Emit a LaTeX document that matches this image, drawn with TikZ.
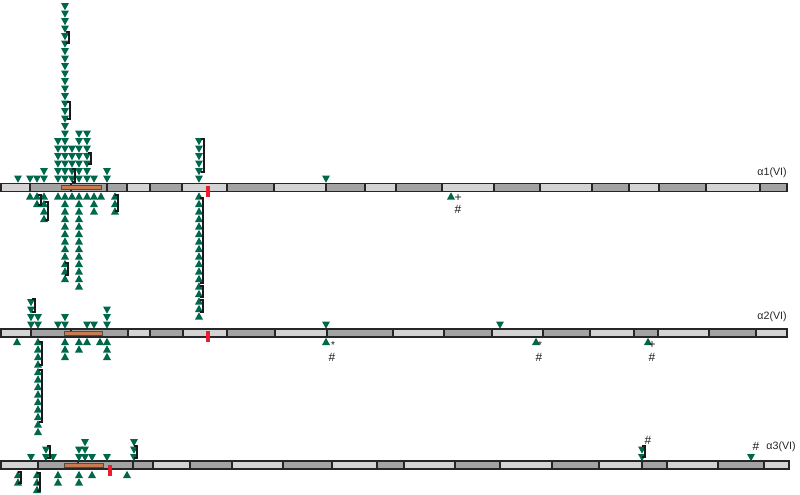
\documentclass[tikz,border=0pt]{standalone}
\usepackage{fontspec}
\setmainfont{Liberation Sans}
\definecolor{tgreen}{RGB}{0,104,74}
\definecolor{segl}{RGB}{212,212,212}
\definecolor{segd}{RGB}{163,163,163}
\definecolor{brownbar}{RGB}{200,122,80}
\definecolor{redmark}{RGB}{236,28,46}
\newcommand\Dn[3]{\foreach \k in {1,...,#3}{\fill[tri] ({#1-4},{#2-(\k-1)*7.5-3.5}) -- ({#1+4},{#2-(\k-1)*7.5-3.5}) -- ({#1},{#2-(\k-1)*7.5+3.7}) -- cycle;}}
\newcommand\Up[3]{\foreach \k in {1,...,#3}{\fill[tri] ({#1-4},{#2+(\k-1)*7.5+3.5}) -- ({#1+4},{#2+(\k-1)*7.5+3.5}) -- ({#1},{#2+(\k-1)*7.5-3.7}) -- cycle;}}
\newcommand\Br[3]{\draw[brk] ({#1-3.5},#2) -- (#1,#2) -- (#1,#3) -- ({#1-3.5},#3);}
\begin{document}
\begin{tikzpicture}[x=0.75pt,y=-0.75pt,
  tri/.style={fill=tgreen},
  brk/.style={draw=black!90,line width=0.8pt},
  segbox/.style={draw=black!85,line width=1pt},
  lbl/.style={font=\fontsize{8}{9}\selectfont,inner sep=0pt,text=black!85},
  annot/.style={font=\fontsize{9}{9}\selectfont,inner sep=0pt,text=black!90},
  star/.style={font=\fontsize{7.5}{8}\selectfont,inner sep=0pt,text=black!90}]
\useasboundingbox (0,0) rectangle (800,494);
% ---------- row 1 bar ----------
\foreach \a/\b/\c in {1/30/segl,30/107/segd,107/127/segd,127/150/segl,150/182/segd,182/227/segl,227/274/segd,274/326/segl,326/365/segd,365/396/segl,396/442/segd,442/494/segl,494/540/segd,540/592/segl,592/629/segd,629/659/segl,659/706/segd,706/760/segl,760/787/segd}
  {\filldraw[segbox,fill=\c] (\a,183.5) rectangle (\b,191.5);}
\draw[segbox] (71,183.5) -- (71,191.5);
\filldraw[fill=brownbar,draw=black!70,line width=0.5pt] (61,185.8) rectangle (101,189.7);
\fill[redmark] (206,186) rectangle (210,196.5);
% ---------- row 2 bar ----------
\foreach \a/\b/\c in {1/31/segl,31/128/segd,128/150/segl,150/183/segd,183/227/segl,227/275/segd,275/327/segl,327/393/segd,393/444/segl,444/492/segd,492/543/segl,543/590/segd,590/634/segl,634/658/segd,658/709/segl,709/756/segd,756/787/segl}
  {\filldraw[segbox,fill=\c] (\a,329) rectangle (\b,337);}
\draw[segbox] (71,329) -- (71,337);
\filldraw[fill=brownbar,draw=black!70,line width=0.5pt] (64,331.3) rectangle (102,335.2);
\fill[redmark] (206,331) rectangle (210,342);
% ---------- row 3 bar ----------
\foreach \a/\b/\c in {1/38/segl,38/133/segd,133/153/segd,153/190/segl,190/232/segd,232/283/segl,283/332/segd,332/377/segl,377/404/segd,404/455/segl,455/500/segd,500/552/segl,552/599/segd,599/642/segl,642/667/segd,667/718/segl,718/764/segd,764/789/segl}
  {\filldraw[segbox,fill=\c] (\a,461) rectangle (\b,469);}
\draw[segbox] (78,461) -- (78,469);
\filldraw[fill=brownbar,draw=black!70,line width=0.5pt] (64,463.3) rectangle (103,467.2);
\fill[redmark] (108,465) rectangle (112,476);
% ---------- row 1 triangles ----------
\Dn{18}{179}{1}\Dn{30}{179}{1}\Dn{37}{179}{1}\Dn{44}{179}{2}
\Dn{58}{179}{6}\Dn{65}{179}{24}\Dn{72}{179}{5}\Dn{79}{179}{7}
\Dn{87}{179}{7}\Dn{94}{179}{1}\Dn{107}{179}{2}
\Dn{199}{179}{6}\Dn{326}{179}{1}
\Br{69}{32}{43}\Br{70}{102}{119}\Br{91}{153}{164}\Br{75}{169}{182}\Br{204}{139}{172}
\Up{30}{196}{1}\Up{37}{196}{2}\Up{44}{196}{4}\Up{58}{196}{1}
\Up{65}{196}{12}\Up{72}{196}{1}\Up{79}{196}{13}\Up{87}{196}{1}
\Up{94}{196}{3}\Up{101}{196}{1}\Up{115}{196}{3}
\Up{199}{196}{17}\Up{451}{196}{1}
\Br{41}{195}{205}\Br{48}{202}{220}\Br{68}{263}{275}\Br{118}{195}{211}
\Br{203}{198}{283}\Br{203}{286}{297}\Br{203}{300}{312}
% ---------- row 2 triangles ----------
\Dn{31}{325}{4}\Dn{38}{325}{2}\Dn{58}{325}{1}\Dn{65}{325}{2}
\Dn{87}{325}{1}\Dn{94}{325}{1}\Dn{107}{325}{3}\Dn{326}{325}{1}\Dn{500}{325}{1}
\Br{35}{299}{312}
\Up{17}{341.5}{1}\Up{38}{341.5}{13}\Up{65}{341.5}{3}\Up{79}{341.5}{2}
\Up{87}{341.5}{1}\Up{100}{341.5}{1}\Up{107}{341.5}{3}
\Up{326}{341.5}{1}\Up{536}{341.5}{1}\Up{648}{341.5}{1}
\Br{42}{342}{365}\Br{42}{370}{422}
% ---------- row 3 triangles ----------
\Dn{31}{457.5}{1}\Dn{46}{457.5}{2}\Dn{53}{457.5}{1}\Dn{79}{457.5}{2}
\Dn{85}{457.5}{3}\Dn{92}{457.5}{1}\Dn{107}{457.5}{1}\Dn{134}{457.5}{3}
\Dn{642}{457.5}{2}\Dn{751}{457.5}{1}
\Br{50}{446}{458}\Br{137}{446}{458}\Br{645}{446}{457}
\Up{18}{474.5}{2}\Up{37}{474.5}{3}\Up{58}{474.5}{2}\Up{79}{474.5}{2}
\Up{92}{474.5}{1}\Up{127}{474.5}{1}
\Br{21}{472}{483}\Br{40}{473}{483}\Br{40}{484}{491}
% ---------- labels ----------
\node[lbl,anchor=east] (l1) at (787,173) {α1(VI)};
\node[lbl,anchor=east] (l2) at (787,317) {α2(VI)};
\node[lbl,anchor=east] (l3) at (796,447) {α3(VI)};
\node[annot] (p1) at (458,198) {+};
\node[annot] (h1) at (458,209) {\#};
\node[star] (s2a) at (333,345.5) {*};
\node[annot] (h2a) at (332,357.5) {\#};
\node[star] (s2b) at (540,345.5) {*};
\node[annot] (h2b) at (539,357.5) {\#};
\node[annot] (p2c) at (652,345.5) {+};
\node[annot] (h2c) at (652,357) {\#};
\node[annot] (h3a) at (648,440) {\#};
\node[annot] (h3b) at (756,446) {\#};
\end{tikzpicture}
\end{document}
